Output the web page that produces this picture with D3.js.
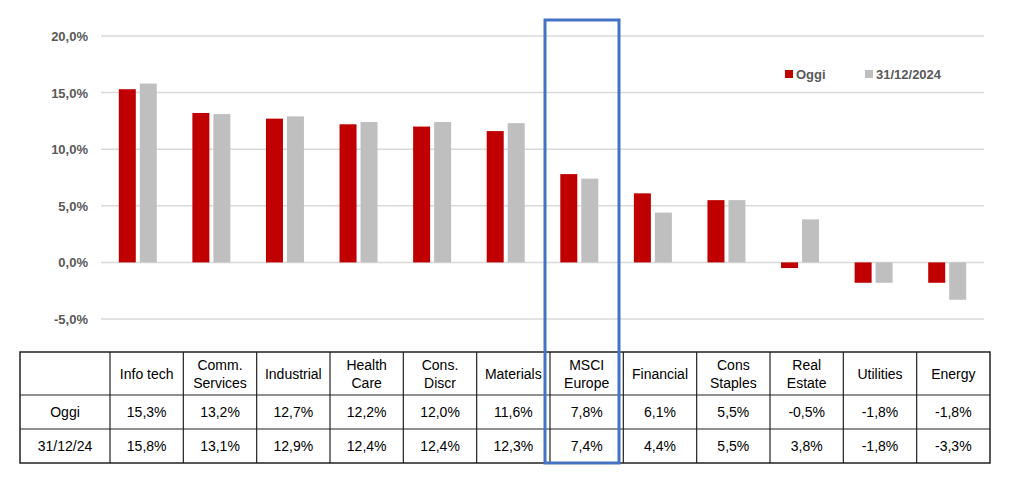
<!DOCTYPE html>
<html><head><meta charset="utf-8">
<script src="https://cdn.jsdelivr.net/npm/d3@7"></script>
<style>body{margin:0;background:#fff}</style>
</head><body><div id="chart"></div>
<script>
var categories = ["Info tech", "Comm.\nServices", "Industrial", "Health\nCare", "Cons.\nDiscr", "Materials", "MSCI\nEurope", "Financial", "Cons\nStaples", "Real\nEstate", "Utilities", "Energy"];
var oggi = [15.3, 13.2, 12.7, 12.2, 12.0, 11.6, 7.8, 6.1, 5.5, -0.5, -1.8, -1.8];
var fine2024 = [15.8, 13.1, 12.9, 12.4, 12.4, 12.3, 7.4, 4.4, 5.5, 3.8, -1.8, -3.3];
var yTicks = [-5, 0, 5, 10, 15, 20];
var rowLabels = ["Oggi", "31/12/24"];

var w = 1012, h = 483;
var svg = d3.select("#chart").append("svg").attr("width", w).attr("height", h);
var fmt = function(v) { return v.toFixed(1).replace(".", ",") + "%"; };

var x = d3.scaleBand().domain(d3.range(categories.length)).range([101, 984]);
var y = d3.scaleLinear().domain([-5, 20]).range([319, 36]);

// gridlines + tick labels
svg.selectAll("line.grid").data(yTicks).enter().append("line")
    .attr("x1", 101).attr("x2", 984)
    .attr("y1", function(d) { return y(d); }).attr("y2", function(d) { return y(d); })
    .attr("stroke", "#d9d9d9").attr("stroke-width", 1.5);
svg.selectAll("text.tick").data(yTicks).enter().append("text")
    .attr("x", 88).attr("y", function(d) { return y(d) + 5; })
    .attr("text-anchor", "end").attr("font-family", "Liberation Sans, Arial")
    .attr("font-weight", "bold").attr("font-size", 13).attr("fill", "#595959")
    .text(function(d) { return d.toFixed(1).replace(".", ",") + "%"; });

var bw = 17, gap = 4;
function bars(data, color, dx) {
    svg.append("g").selectAll("rect").data(data).enter().append("rect")
        .attr("x", function(d, i) { return x(i) + x.bandwidth() / 2 + dx; })
        .attr("y", function(d) { return y(Math.max(0, d)); })
        .attr("width", bw)
        .attr("height", function(d) { return Math.abs(y(d) - y(0)); })
        .attr("fill", color);
}
bars(oggi, "#c00000", -bw - gap / 2);
bars(fine2024, "#bfbfbf", gap / 2);

// legend
var lg = svg.append("g").attr("font-family", "Liberation Sans, Arial").attr("font-weight", "bold")
    .attr("font-size", 13).attr("fill", "#595959");
lg.append("rect").attr("x", 785).attr("y", 70).attr("width", 8).attr("height", 8).attr("fill", "#c00000");
lg.append("text").attr("x", 796).attr("y", 79).text("Oggi");
lg.append("rect").attr("x", 865).attr("y", 70).attr("width", 8).attr("height", 8).attr("fill", "#bfbfbf");
lg.append("text").attr("x", 876).attr("y", 79).text("31/12/2024");

// table
var tx0 = 20, tx1 = 110, tx2 = 990;
var rows = [352, 395, 429, 463];
var cw = (tx2 - tx1) / categories.length;
var tb = svg.append("g").attr("font-family", "Liberation Sans, Arial").attr("font-size", 14).attr("fill", "#000");
tb.append("rect").attr("x", tx0).attr("y", rows[0]).attr("width", tx2 - tx0).attr("height", rows[3] - rows[0])
    .attr("fill", "none").attr("stroke", "#222").attr("stroke-width", 1.5);
rows.slice(1, 3).forEach(function(r) {
    tb.append("line").attr("x1", tx0).attr("x2", tx2).attr("y1", r).attr("y2", r).attr("stroke", "#222").attr("stroke-width", 1.2);
});
d3.range(categories.length).forEach(function(i) {
    var cx = tx1 + i * cw;
    tb.append("line").attr("x1", cx).attr("x2", cx).attr("y1", rows[0]).attr("y2", rows[3]).attr("stroke", "#222").attr("stroke-width", 1.2);
    var lines = categories[i].split("\n");
    lines.forEach(function(l, k) {
        tb.append("text").attr("x", cx + cw / 2).attr("text-anchor", "middle")
            .attr("y", (rows[0] + rows[1]) / 2 + 5 + (k - (lines.length - 1) / 2) * 18).text(l);
    });
    [oggi, fine2024].forEach(function(arr, r) {
        tb.append("text").attr("x", cx + cw / 2).attr("text-anchor", "middle")
            .attr("y", (rows[r + 1] + rows[r + 2]) / 2 + 5).text(fmt(arr[i]));
    });
});
rowLabels.forEach(function(l, r) {
    tb.append("text").attr("x", (tx0 + tx1) / 2).attr("text-anchor", "middle")
        .attr("y", (rows[r + 1] + rows[r + 2]) / 2 + 5).text(l);
});

// highlight box around MSCI Europe
svg.append("rect").attr("x", 545).attr("y", 20).attr("width", 74).attr("height", 443)
    .attr("fill", "none").attr("stroke", "#4472c4").attr("stroke-width", 3);
</script></body></html>
